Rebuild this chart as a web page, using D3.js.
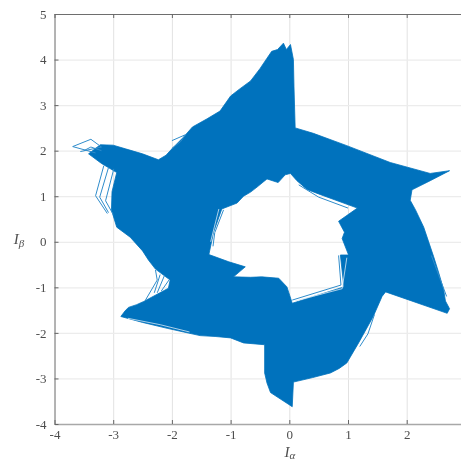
<!DOCTYPE html>
<html>
<head>
<meta charset="utf-8">
<style>
  body { margin: 0; background: #fff; }
  svg { display: block; filter: blur(0.35px); }
  text { font-family: "Liberation Serif", serif; fill: #4d4d4d; }
</style>
</head>
<body>
<div id="chart"></div>
<script src="https://cdn.jsdelivr.net/npm/d3@7"></script>
<script>
// Tick labels (the axis runs on to 3, just past the edge of the picture)
const xTicks = [-4, -3, -2, -1, 0, 1, 2];
const yTicks = [-4, -3, -2, -1, 0, 1, 2, 3, 4, 5];

// Outer edge of the dense current trace, clockwise from the top
const outerIa = [-0.1, -0.05, 0.02, 0.07, 0.08, 0.1, 0.41, 0.98, 1.72, 2.4, 2.73, 2.4, 2.09, 2.06, 2.15, 2.29, 2.46, 2.55, 2.63, 2.66, 2.73, 2.69, 1.64, 1.58, 1.43, 1.18, 0.98, 0.85, 0.7, 0.4, 0.07, 0.05, -0.32, -0.38, -0.42, -0.42, -0.78, -1.0, -1.25, -1.52, -1.8, -2.08, -2.5, -2.87, -2.8, -2.74, -2.6, -2.48, -2.06, -2.03, -2.28, -2.4, -2.5, -2.71, -2.94, -3.03, -3.02, -2.94, -3.2, -3.42, -3.22, -3.0, -2.79, -2.5, -2.23, -2.1, -2.0, -1.8, -1.65, -1.4, -1.18, -1.0, -0.85, -0.66, -0.5, -0.38, -0.3, -0.2];
const outerIb = [4.36, 4.22, 4.33, 4.0, 3.4, 2.5, 2.38, 2.11, 1.74, 1.5, 1.56, 1.34, 1.14, 0.91, 0.7, 0.32, -0.33, -0.7, -1.06, -1.3, -1.47, -1.57, -1.1, -1.2, -1.64, -2.22, -2.66, -2.78, -2.88, -2.98, -3.08, -3.62, -3.31, -3.1, -2.88, -2.26, -2.22, -2.11, -2.08, -2.06, -1.98, -1.9, -1.77, -1.64, -1.52, -1.44, -1.38, -1.31, -1.02, -0.84, -0.6, -0.4, -0.2, 0.1, 0.32, 0.7, 1.1, 1.52, 1.72, 1.93, 2.13, 2.12, 2.04, 1.93, 1.8, 1.9, 2.04, 2.3, 2.52, 2.7, 2.87, 3.2, 3.35, 3.53, 3.8, 4.03, 4.18, 4.22];

// Hole in the middle of the trace
const innerIa = [0.02, 0.13, 0.3, 0.5, 1.16, 0.84, 0.94, 0.9, 1.01, 0.87, 0.93, 0.05, -0.04, -0.18, -0.47, -0.66, -0.95, -0.75, -1.03, -1.37, -1.29, -1.15, -0.89, -0.78, -0.66, -0.55, -0.38, -0.19, -0.07];
const innerIb = [1.5, 1.34, 1.15, 1.05, 0.74, 0.45, 0.21, 0.07, -0.29, -0.29, -0.99, -1.35, -0.99, -0.8, -0.77, -0.78, -0.77, -0.55, -0.44, -0.28, 0.21, 0.72, 0.85, 1.0, 1.09, 1.2, 1.38, 1.3, 1.47];

// Single excursions that stand clear of the dense part
const strayTraces = [
  { ia: [-3.3, -3.69, -3.38, -3.2, -3.56], ib: [1.95, 2.09, 2.25, 2.08, 1.98] },
  { ia: [-3.5, -3.38, -3.2], ib: [2.0, 2.08, 2.0] },
  { ia: [-3.16, -3.3, -3.1], ib: [1.67, 1.01, 0.62] },
  { ia: [-3.08, -3.23, -3.08], ib: [1.63, 0.98, 0.64] },
  { ia: [-2.99, -3.13, -3.0], ib: [1.6, 0.9, 0.6] },
  { ia: [-2.28, -2.25, -2.45], ib: [-0.62, -0.84, -1.28] },
  { ia: [-2.2, -2.3], ib: [-0.72, -1.12] },
  { ia: [-2.13, -2.25], ib: [-0.75, -1.12] },
  { ia: [-2.05, -2.18], ib: [-0.84, -1.08] },
  { ia: [-2.0, -1.77, -1.85, -2.0], ib: [2.22, 2.35, 2.2, 2.05] },
  { ia: [1.45, 1.34, 1.2], ib: [-1.6, -2.02, -2.3] },
  { ia: [2.42, 2.55, 2.68], ib: [-0.3, -0.75, -1.2] },
  { ia: [-1.12, -1.27, -1.3], ib: [0.7, 0.2, -0.1] },
  { ia: [0.84, 0.88, 0.05], ib: [-0.3, -0.95, -1.28] },
  { ia: [0.16, 0.5, 1.0], ib: [1.25, 0.98, 0.74] }
];

// Thin gaps left open between passes of the trace
const gapTraces = [
  { ia: [-2.75, -2.2, -1.7], ib: [-1.68, -1.82, -1.98] },
  { ia: [0.98, 0.9, 0.1], ib: [-0.35, -1.03, -1.3] },
  { ia: [-1.2, -1.34], ib: [0.72, 0.0] }
];

const svgWidth = 461;
const svgHeight = 462;

const margin = { top: 14, left: 54.5, bottom: 38, right: -4.4 };
const width = svgWidth - margin.left - margin.right;
const height = svgHeight - margin.top - margin.bottom;

const svg = d3.select('#chart')
    .append('svg')
    .attr('width', svgWidth)
    .attr('height', svgHeight);

const chartGroup = svg.append('g')
    .attr('transform', `translate(${margin.left}, ${margin.top})`);

const xScale = d3.scaleLinear().domain([-4, 3]).range([0, width]);
const yScale = d3.scaleLinear().domain([-4, 5]).range([height, 0]);

// Grid lines
chartGroup.append('g')
    .attr('transform', `translate(0, ${height})`)
    .call(d3.axisBottom(xScale).tickValues(xTicks).tickSize(-height).tickFormat(''))
    .call(g => g.select('.domain').remove())
    .selectAll('line').attr('stroke', '#e2e2e2').attr('stroke-width', 1);

chartGroup.append('g')
    .call(d3.axisLeft(yScale).tickValues(yTicks).tickSize(-width).tickFormat(''))
    .call(g => g.select('.domain').remove())
    .selectAll('line').attr('stroke', '#ececec').attr('stroke-width', 1.2);

// Dense trace, the hole is cut with evenodd
const toLine = d3.line().x(d => xScale(d[0])).y(d => yScale(d[1]));
const outer = toLine(d3.zip(outerIa, outerIb)) + 'Z';
const inner = toLine(d3.zip(innerIa, innerIb)) + 'Z';

chartGroup.append('path')
    .attr('d', outer + inner)
    .attr('fill', '#0072BD')
    .attr('fill-rule', 'evenodd')
    .attr('stroke', '#0072BD')
    .attr('stroke-width', 0.8);

chartGroup.selectAll('.gap')
    .data(gapTraces)
    .enter()
    .append('path')
    .classed('gap', true)
    .attr('d', d => toLine(d3.zip(d.ia, d.ib)))
    .attr('fill', 'none')
    .attr('stroke', '#d5e8f5')
    .attr('stroke-width', 0.8);

chartGroup.selectAll('.stray')
    .data(strayTraces)
    .enter()
    .append('path')
    .classed('stray', true)
    .attr('d', d => toLine(d3.zip(d.ia, d.ib)))
    .attr('fill', 'none')
    .attr('stroke', '#2f8ccb')
    .attr('stroke-width', 1);

// Axes
const bottomAxis = chartGroup.append('g')
    .attr('transform', `translate(0, ${height})`)
    .call(d3.axisBottom(xScale).tickValues(xTicks).tickSizeInner(-4).tickSizeOuter(0).tickPadding(6).tickFormat(String));
const leftAxis = chartGroup.append('g')
    .call(d3.axisLeft(yScale).tickValues(yTicks).tickSizeInner(-4).tickSizeOuter(0).tickPadding(8).tickFormat(String));
const topAxis = chartGroup.append('g')
    .call(d3.axisTop(xScale).tickValues(xTicks).tickSizeInner(-4).tickSizeOuter(0).tickFormat(''));

bottomAxis.select('.domain').attr('stroke', '#a8a8a8').attr('stroke-width', 1.4);
leftAxis.select('.domain').attr('stroke', '#777').attr('stroke-width', 1);
topAxis.select('.domain').attr('stroke', '#6e6e6e').attr('stroke-width', 1.2);
[bottomAxis, leftAxis, topAxis].forEach(a => a.selectAll('.tick line').attr('stroke', '#666'));
[bottomAxis, leftAxis].forEach(a => a.selectAll('text')
    .style('font-family', '"Liberation Serif", serif')
    .style('font-size', '13px')
    .attr('fill', '#4d4d4d'));

// Axis labels
const xLabel = svg.append('text')
    .attr('x', 290)
    .attr('y', 457)
    .attr('text-anchor', 'middle')
    .style('font-size', '15px')
    .style('font-style', 'italic');
xLabel.append('tspan').text('I');
xLabel.append('tspan').attr('dy', 2).style('font-size', '11px').text('α');

const yLabel = svg.append('text')
    .attr('x', 19)
    .attr('y', 244)
    .attr('text-anchor', 'middle')
    .style('font-size', '15px')
    .style('font-style', 'italic');
yLabel.append('tspan').text('I');
yLabel.append('tspan').attr('dy', 3).style('font-size', '11px').text('β');
</script>
</body>
</html>
